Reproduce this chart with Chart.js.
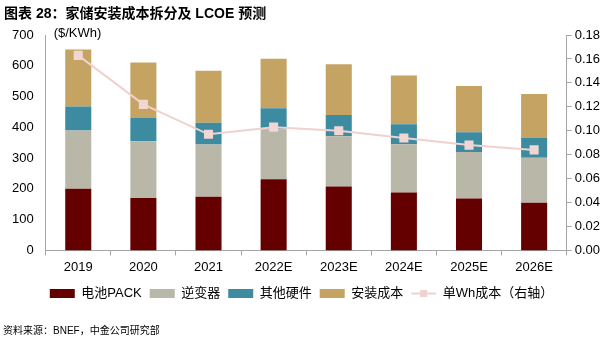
<!DOCTYPE html>
<html lang="zh">
<head>
  <meta charset="UTF-8">
  <title>家储安装成本拆分及 LCOE 预测</title>
  <script src="https://cdn.jsdelivr.net/npm/chart.js"></script>
  <style>
    body {
      margin: 0;
      background: #fff;
      font-family: "Liberation Sans", "Noto Sans CJK SC", sans-serif;
    }
    #wrap {
      position: relative;
      width: 603px;
      height: 340px;
    }
    #title {
      position: absolute;
      left: 4px;
      top: 2px;
      font: bold 14px "Liberation Sans", "Noto Sans CJK SC", sans-serif;
      color: #000;
    }
    #source {
      position: absolute;
      left: 3px;
      top: 322px;
      font: 10px "Liberation Sans", "Noto Sans CJK SC", sans-serif;
      color: #000;
    }
    canvas { position: absolute; left: 0; top: 0; }
  </style>
</head>
<body>
  <div id="wrap">
    <canvas id="chart" width="603" height="340"></canvas>
    <div id="title">图表 28：家储安装成本拆分及 LCOE 预测</div>
    <div id="source">资料来源：BNEF，中金公司研究部</div>
  </div>

  <script>
    const years = ["2019", "2020", "2021", "2022E", "2023E", "2024E", "2025E", "2026E"];
    const pack = [200, 170, 174, 231, 208, 188, 169, 155];
    const inverter = [190, 185, 170, 163, 163, 157, 151, 146];
    const hardware = [78, 75, 71, 68, 69, 65, 64, 64];
    const install = [185, 181, 169, 161, 165, 158, 150, 143];
    const perWh = [0.163, 0.122, 0.097, 0.103, 0.100, 0.094, 0.088, 0.084];

    const leftTicks = [0, 100, 200, 300, 400, 500, 600, 700];
    const rightTicks = [0, 0.02, 0.04, 0.06, 0.08, 0.10, 0.12, 0.14, 0.16, 0.18];

    const lineColor = "#EFD2CE";
    const axisColor = "#A6A6A6";
    const font13 = { family: "'Liberation Sans', 'Noto Sans CJK SC', sans-serif", size: 13 };

    // draws "($/KWh)" and the line+square legend symbol
    const extras = {
      id: "extras",
      afterDraw(chart) {
        const ctx = chart.ctx;
        const area = chart.chartArea;
        ctx.save();
        ctx.font = "13px 'Liberation Sans', 'Noto Sans CJK SC', sans-serif";
        ctx.fillStyle = "#000";
        ctx.textBaseline = "middle";
        ctx.fillText("($/KWh)", area.left + 8, area.top - 2);

        const lg = chart.legend;
        const idx = lg.legendItems.findIndex(it => it.datasetIndex === 4);
        if (idx >= 0) {
          const hb = lg.legendHitBoxes[idx];
          const bw = lg.options.labels.boxWidth;
          const cy = hb.top + hb.height / 2;
          ctx.strokeStyle = lineColor;
          ctx.lineWidth = 2;
          ctx.beginPath();
          ctx.moveTo(hb.left, cy);
          ctx.lineTo(hb.left + bw, cy);
          ctx.stroke();
          ctx.fillStyle = lineColor;
          ctx.fillRect(hb.left + bw / 2 - 3.5, cy - 3.5, 7, 7);
        }
        ctx.restore();
      }
    };

    new Chart(document.getElementById("chart"), {
      type: "bar",
      data: {
        labels: years,
        datasets: [
          { label: "电池PACK", data: pack, backgroundColor: "#650000", stack: "s", order: 1 },
          { label: "逆变器", data: inverter, backgroundColor: "#B9B7A7", stack: "s", order: 1 },
          { label: "其他硬件", data: hardware, backgroundColor: "#3D8BA0", stack: "s", order: 1 },
          { label: "安装成本", data: install, backgroundColor: "#C5A363", stack: "s", order: 1 },
          {
            type: "line", label: "单Wh成本（右轴）", data: perWh, yAxisID: "y1", order: 0,
            borderColor: lineColor, borderWidth: 2, backgroundColor: lineColor,
            pointStyle: "rect", pointRadius: 5, pointBackgroundColor: "#F2D6D3",
            pointBorderColor: "#F2D6D3", tension: 0
          }
        ]
      },
      options: {
        responsive: false,
        animation: false,
        layout: { padding: { top: 35, left: 0, right: 0, bottom: 30 } },
        datasets: { bar: { barPercentage: 0.4, categoryPercentage: 1 } },
        plugins: {
          tooltip: { enabled: false },
          legend: {
            position: "bottom",
            labels: {
              boxWidth: 25,
              boxHeight: 9,
              padding: 8,
              color: "#000",
              font: font13,
              sort: (a, b) => a.datasetIndex - b.datasetIndex,
              generateLabels(chart) {
                const items = Chart.defaults.plugins.legend.labels.generateLabels(chart);
                items.forEach(it => {
                  if (it.datasetIndex === 4) {
                    it.fillStyle = "rgba(0,0,0,0)";
                    it.strokeStyle = "rgba(0,0,0,0)";
                  }
                  it.lineWidth = 0;
                });
                return items;
              }
            }
          }
        },
        scales: {
          x: {
            stacked: true,
            offset: true,
            grid: { offset: true, drawOnChartArea: false, tickLength: 5, color: axisColor },
            border: { color: axisColor },
            ticks: { color: "#000", font: font13, padding: 4 }
          },
          y: {
            stacked: true,
            min: 0, max: 700,
            afterBuildTicks(axis) { axis.ticks = leftTicks.map(v => ({ value: v })); },
            grid: { display: false, drawTicks: false },
            border: { color: axisColor },
            ticks: { color: "#000", font: font13, padding: 12 }
          },
          y1: {
            position: "right",
            min: 0, max: 0.18,
            afterBuildTicks(axis) { axis.ticks = rightTicks.map(v => ({ value: v })); },
            grid: { drawOnChartArea: false, tickLength: 5, color: axisColor },
            border: { color: axisColor },
            ticks: { color: "#000", font: font13, padding: 3, callback: v => v.toFixed(2) }
          }
        }
      },
      plugins: [extras]
    });
  </script>
</body>
</html>
